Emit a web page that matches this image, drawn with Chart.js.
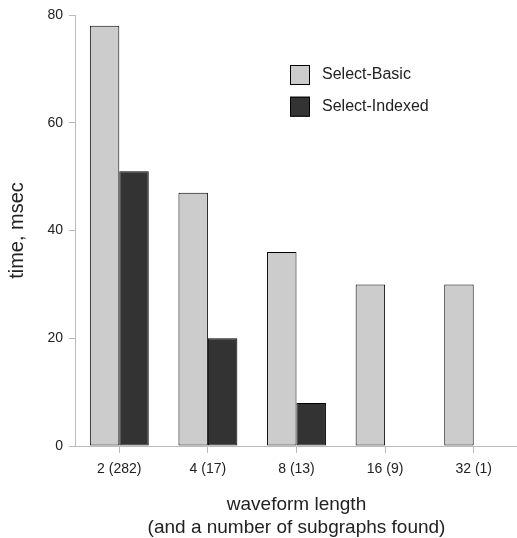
<!DOCTYPE html>
<html><head><meta charset="utf-8">
<script src="https://cdn.jsdelivr.net/npm/chart.js@4"></script>
<style>html,body{margin:0;padding:0;background:#fff;overflow:hidden}#wrap{width:519px;height:538px}</style>
</head><body><div id="wrap"><canvas id="c" width="519" height="538"></canvas></div>
<script>
const categories = ['2 (282)', '4 (17)', '8 (13)', '16 (9)', '32 (1)'];
const basicValues = [78, 47, 36, 30, 30];
const indexedValues = [51, 20, 8, null, null];
const yTicks = [0, 20, 40, 60, 80];

const FONT = '"Liberation Sans", Arial, sans-serif';
const TXT = '#222';

const legendPlugin = {
  id: 'innerLegend',
  afterDraw(chart) {
    const ctx = chart.ctx;
    ctx.save();
    chart.data.datasets.forEach((ds, i) => {
      const x = 290, y = 65 + i * 31.7;
      ctx.fillStyle = ds.backgroundColor;
      ctx.fillRect(x, y, 20, 20);
      ctx.strokeStyle = '#000';
      ctx.lineWidth = 1;
      ctx.strokeRect(x + 0.5, y + 0.5, 19, 19);
      ctx.fillStyle = TXT;
      ctx.font = '16px ' + FONT;
      ctx.textBaseline = 'middle';
      ctx.fillText(ds.label, 322, y + 10);
    });
    ctx.restore();
  }
};

new Chart(document.getElementById('c'), {
  type: 'bar',
  data: {
    labels: categories,
    datasets: [
      { label: 'Select-Basic', data: basicValues, backgroundColor: '#cccccc', borderColor: '#000', borderWidth: 1, borderSkipped: false },
      { label: 'Select-Indexed', data: indexedValues, backgroundColor: '#333333', borderColor: '#000', borderWidth: 1, borderSkipped: false }
    ]
  },
  options: {
    responsive: false,
    animation: false,
    devicePixelRatio: 1,
    layout: { padding: { top: 15, right: 1, left: 0, bottom: 0 } },
    datasets: { bar: { categoryPercentage: 0.665, barPercentage: 1 } },
    plugins: { legend: { display: false }, tooltip: { enabled: false } },
    scales: {
      x: {
        offset: true,
        grid: { offset: false, drawOnChartArea: false, drawTicks: true, tickLength: 7, color: '#bbb' },
        border: { display: true, color: '#bbb' },
        ticks: { color: TXT, font: { family: FONT, size: 14 }, padding: 8, maxRotation: 0 },
        title: { display: true, text: ['waveform length', '(and a number of subgraphs found)'], color: TXT, font: { family: FONT, size: 19, lineHeight: 1.2 }, padding: { top: 4, bottom: -1 } },
        afterFit(s) { s.height = 92; }
      },
      y: {
        min: 0, max: 80,
        afterBuildTicks(s) { s.ticks = yTicks.map(v => ({ value: v })); },
        grid: { drawOnChartArea: false, drawTicks: true, tickLength: 6, color: '#bbb' },
        border: { display: true, color: '#bbb' },
        ticks: { color: TXT, font: { family: FONT, size: 14 }, padding: 6 },
        title: { display: true, text: 'time, msec', color: TXT, font: { family: FONT, size: 20 }, padding: { top: 5, bottom: 4 } },
        afterFit(s) { s.width = 75; }
      }
    }
  },
  plugins: [legendPlugin]
});
</script></body></html>
